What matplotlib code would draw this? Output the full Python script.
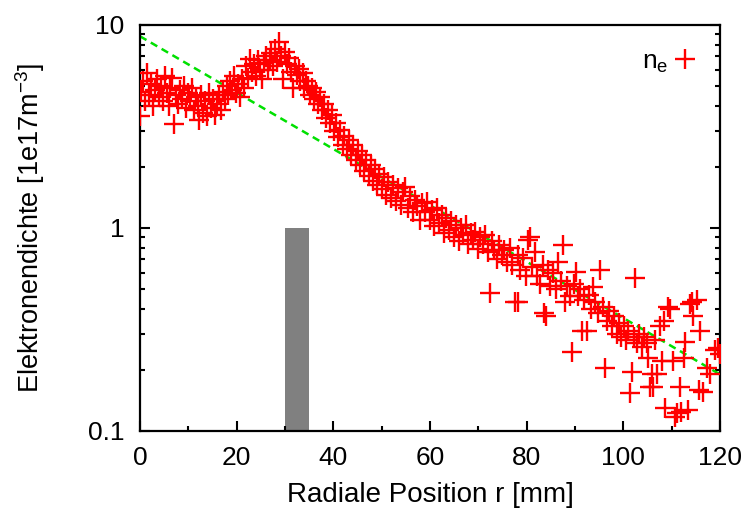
import numpy as np
import matplotlib.pyplot as plt
from matplotlib.ticker import FixedLocator, LogLocator, NullFormatter

plt.rcParams.update({"font.family": ["Liberation Sans", "DejaVu Sans"], "font.size": 18})

# measured electron density (r in mm, n_e in 1e17 m^-3)
r_data = [
    0.0, 0.3, 0.7, 1.1, 1.5, 1.9, 2.3, 2.7, 3.1, 3.5, 3.9, 4.3, 4.7, 5.1, 5.5, 5.9, 6.3, 6.7, 7.1, 7.5,
    7.9, 8.3, 8.7, 9.1, 9.5, 9.9, 10.3, 10.7, 11.1, 11.5, 11.9, 12.3, 12.7, 13.1, 13.5, 13.9, 14.3, 14.7,
    15.1, 15.5, 15.9, 16.3, 16.7, 17.1, 17.5, 17.9, 18.3, 18.7, 19.1, 19.5, 19.9, 20.3, 20.7, 21.1, 21.5,
    22.0, 22.4, 22.8, 23.2, 23.6, 24.0, 24.4, 24.8, 25.2, 25.6, 26.0, 26.4, 26.8, 27.2, 27.6, 28.0, 28.4,
    28.8, 29.2, 29.6, 30.0, 30.4, 30.8, 31.2, 31.7, 32.0,
    32.4, 32.8, 33.2, 33.7, 34.0, 34.4, 34.8, 35.2, 35.6, 36.0, 36.5, 36.9, 37.3, 37.7, 38.1, 38.5, 38.9,
    39.3, 39.7,
    40.1, 40.5, 41.0, 41.4, 41.9, 42.3, 42.8, 43.2, 43.7, 44.1, 44.6, 45.0, 45.5, 45.9, 46.4, 46.8, 47.3,
    47.7, 48.2, 48.6, 49.1, 49.5, 50.0,
    50.4, 50.9, 51.4, 51.9, 52.4, 52.9, 53.4, 53.9, 54.4, 54.9, 55.4, 55.9, 56.4, 56.9, 57.4, 57.9, 58.4,
    58.9, 59.4, 59.9, 60.4, 60.9, 61.4, 61.9, 62.4, 62.9, 63.4, 63.9, 64.4, 64.9, 65.4, 65.9, 66.4, 66.9,
    67.4, 67.9, 68.4, 68.9, 69.4, 69.9, 70.4, 70.9, 71.4, 71.9, 72.4, 72.8, 73.3, 73.8, 74.3, 74.8,
    75.3, 75.9, 76.5, 77.0, 77.6, 78.1, 78.3, 78.7, 79.3, 79.8, 80.3, 80.7, 81.2, 81.7, 82.2, 82.8, 83.3,
    83.5, 83.9, 84.4, 84.9, 85.4, 86.0, 86.4, 87.0, 87.5, 88.0, 88.4, 88.9, 89.3, 89.7, 90.1, 90.6, 91.1,
    91.4, 91.9, 92.4, 92.8, 93.3, 93.7, 94.2, 94.7, 95.2, 95.7, 96.2, 96.6, 97.1, 97.6, 98.1, 98.6, 99.1,
    99.6, 100.1, 100.6, 101.0, 101.4, 101.8, 102.2, 102.4, 102.8, 103.3, 103.8, 104.3, 104.8, 105.2,
    105.5, 106.0, 106.2, 106.6, 107.0, 107.5, 108.0, 108.4, 108.6, 109.2, 109.7, 110.2, 110.7, 111.2,
    111.7, 112.0, 112.5, 112.8, 113.3, 113.8, 114.2, 114.5, 115.2, 115.6, 115.9, 116.5, 117.3, 118.0,
    119.0, 119.5, 120.0,
]
ne_data = [
    3.55, 4.7, 5.3, 4.2, 5.8, 4.5, 5.1, 4.0, 4.8, 5.4, 4.4, 5.0, 4.2, 5.6, 4.6, 4.0, 4.9, 5.5, 3.25, 4.5,
    4.1, 4.8, 4.3, 5.0, 3.9, 4.6, 4.2, 4.9, 3.8, 4.4, 4.0, 3.4, 4.5, 3.7, 4.2, 3.55, 4.6, 3.9,
    4.3, 3.6, 4.1, 4.5, 3.8, 4.7, 4.3, 5.0, 4.5, 5.3, 4.8, 5.6, 4.6, 5.1, 4.4, 5.4, 4.9,
    6.3, 5.5, 6.8, 5.9, 6.4, 5.6, 6.7, 6.0, 5.4, 6.5, 7.0, 6.0, 6.7, 7.3, 6.3, 7.6, 6.6,
    8.2, 7.0, 5.4, 7.4, 6.4, 6.9, 5.9, 4.9, 6.3,
    5.7, 6.1, 5.3, 5.8, 4.9, 5.3, 5.0, 4.5, 4.9, 4.3, 4.7, 4.1, 4.4, 3.8, 4.1, 3.5, 3.8,
    3.3, 3.6,
    3.0, 3.3, 2.8, 3.05, 2.55, 2.85, 2.45, 2.7, 2.3, 2.55, 2.15, 2.4, 2.05, 2.3, 1.9, 2.15, 1.8,
    2.05, 1.7, 1.95, 1.62, 1.85, 1.55,
    1.78, 1.46, 1.68, 1.40, 1.62, 1.36, 1.58, 1.30, 1.50, 1.60, 1.25, 1.44, 1.20, 1.38, 1.28, 1.10, 1.33,
    1.20, 1.35, 1.10, 1.22, 1.02, 1.26, 1.06, 1.16, 0.95, 1.12, 0.98, 1.08, 0.90, 1.04, 0.86, 1.00, 0.92,
    1.03, 0.83, 0.95, 0.87, 0.96, 0.79, 0.90, 0.83, 0.92, 0.76, 0.48, 0.86, 0.78, 0.70, 0.82, 0.74,
    0.78, 0.68, 0.80, 0.66, 0.43, 0.74, 0.43, 0.62, 0.71, 0.58, 0.87, 0.90, 0.64, 0.76, 0.58, 0.53, 0.66,
    0.38, 0.37, 0.62, 0.52, 0.60, 0.50, 0.68, 0.55, 0.82, 0.43, 0.52, 0.46, 0.245, 0.53, 0.61, 0.46, 0.50,
    0.31, 0.44, 0.31, 0.47, 0.40, 0.51, 0.43, 0.38, 0.62, 0.41, 0.205, 0.35, 0.39, 0.33, 0.37, 0.30, 0.34,
    0.29, 0.33, 0.28, 0.31, 0.154, 0.195, 0.29, 0.57, 0.27, 0.30, 0.26, 0.29, 0.27, 0.23,
    0.165, 0.19, 0.164, 0.28, 0.19, 0.33, 0.22, 0.35, 0.13, 0.41, 0.40, 0.22, 0.117, 0.122,
    0.164, 0.124, 0.23, 0.275, 0.127, 0.42, 0.43, 0.37, 0.44, 0.16, 0.31, 0.156, 0.205, 0.19,
    0.25, 0.257, 0.24,
]
assert len(r_data) == len(ne_data)

# exponential fit, drawn between its end points
fit_r = [0, 120]
fit_ne = [8.8, 0.19]

# shaded region
bar_left = 30
bar_width = 5
bar_top = 1.0

fig = plt.figure(figsize=(7.47, 5.11), dpi=100)
ax = fig.add_axes([0.1874, 0.1566, 0.7765, 0.7945])

ax.bar(bar_left, bar_top - 0.1, width=bar_width, bottom=0.1, align="edge", color="#808080", zorder=1)
ax.plot(fit_r, fit_ne, color="#00e000", linestyle=(0, (3, 2)), linewidth=1.8, zorder=2)
ax.plot(r_data, ne_data, linestyle="none", marker="+", markersize=14.5, markeredgewidth=1.7,
        color="red", label="n$_\\mathregular{e}$", zorder=3)

ax.set_yscale("log")
ax.set_xlim(0, 120)
ax.set_ylim(0.1, 10)
ax.set_xticks(range(0, 121, 20))
ax.xaxis.set_minor_locator(FixedLocator(range(10, 120, 20)))
ax.set_yticks([0.1, 1, 10])
ax.set_yticklabels(["0.1", "1", "10"])
ax.yaxis.set_minor_locator(LogLocator(base=10, subs=np.arange(2, 10)))
ax.yaxis.set_minor_formatter(NullFormatter())
ax.tick_params(which="both", direction="in", width=1.5, right=True, top=False, labelsize=19)
ax.tick_params(which="major", length=7, pad=11)
ax.tick_params(which="minor", length=3.5)
for s in ax.spines.values():
    s.set_linewidth(1.6)

ax.set_xlabel("Radiale Position r [mm]", fontsize=20, va="center")
ax.set_ylabel("Elektronendichte [1e17m$^\\mathregular{-3}$]", fontsize=19.5, va="center")
ax.xaxis.set_label_coords(0.5, -0.158)
ax.yaxis.set_label_coords(-0.19, 0.5)

ax.legend(loc="upper right", frameon=False, markerfirst=False, handlelength=1.0,
          handletextpad=0.15, bbox_to_anchor=(0.995, 0.985), borderaxespad=0.3, fontsize=19)

fig.savefig("out.png", dpi=100)
